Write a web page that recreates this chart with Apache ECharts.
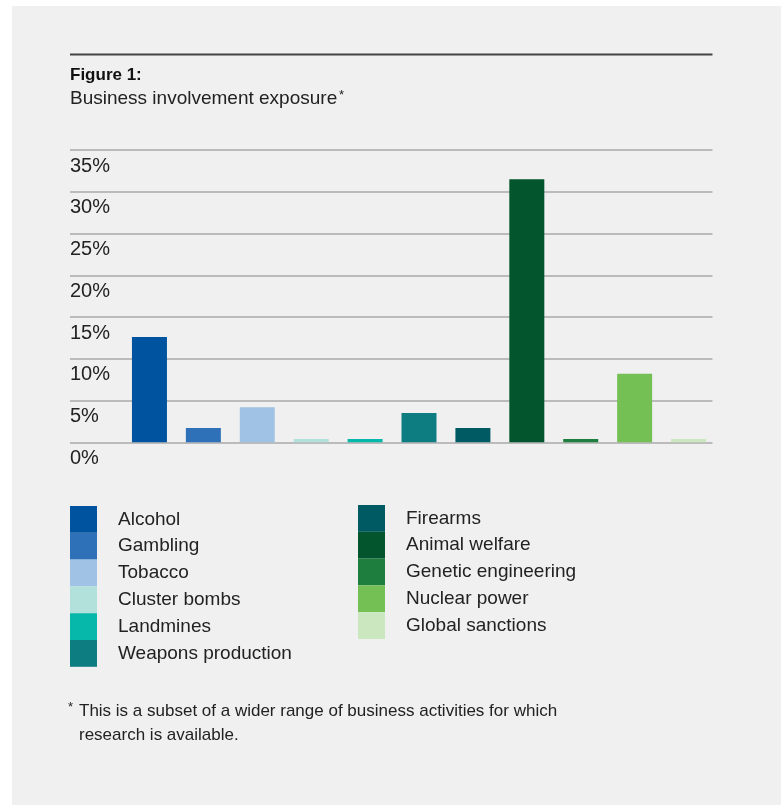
<!DOCTYPE html>
<html>
<head>
<meta charset="utf-8">
<script src="https://cdn.jsdelivr.net/npm/echarts@6/dist/echarts.min.js"></script>
<style>
  html, body { margin: 0; padding: 0; background: #fff; }
  #panel { position: absolute; left: 12px; top: 6px; width: 769px; height: 799px; background: #f0f0f0; }
  #chart { position: absolute; left: 0; top: 0; width: 781px; height: 805px; }
</style>
</head>
<body>
<div id="panel"></div>
<div id="chart"></div>
<script>
// categories, values (%) and colours
const categories = [
  "Alcohol", "Gambling", "Tobacco", "Cluster bombs", "Landmines",
  "Weapons production", "Firearms", "Animal welfare", "Genetic engineering",
  "Nuclear power", "Global sanctions"
];
const exposure = [12.6, 1.7, 4.2, 0.4, 0.4, 3.5, 1.7, 31.5, 0.4, 8.2, 0.4];
const colors = [
  "#00539f", "#2e71b8", "#a0c2e4", "#b2e0da", "#06b8aa",
  "#0e7d82", "#005a63", "#03552e", "#1e7e3e", "#74c055", "#cbe7c0"
];
const yTicks = [0, 5, 10, 15, 20, 25, 30, 35];

const FONT = "'Liberation Sans', Arial, sans-serif";
const TEXT = "#222";

let myChart = echarts.init(document.getElementById("chart"));

// one series per category so every bar gets its own legend entry
let series = categories.map((name, i) => ({
  name: name,
  type: "bar",
  xAxisIndex: 1,
  yAxisIndex: 1,
  stack: "all",
  barWidth: 35,
  itemStyle: { color: colors[i] },
  emphasis: { disabled: true },
  data: exposure.map((v, j) => (j === i ? v : "-")),
}));

let legendCommon = {
  orient: "vertical",
  icon: "rect",
  padding: 0,
  itemWidth: 27,
  itemHeight: 26.8,
  itemGap: 0,
  selectedMode: false,
  textStyle: {
    fontFamily: FONT,
    fontSize: 19,
    color: TEXT,
    padding: [0, 0, 0, 16],
  },
};

let option = {
  animation: false,
  textStyle: { fontFamily: FONT },
  grid: [
    // gridlines and labels span the full width
    { left: 70, right: 68.5, top: 150, bottom: 362.7 },
    // bars sit in a narrower band
    { left: 122.5, right: 65.5, top: 150, bottom: 362.7 },
  ],
  xAxis: [
    { gridIndex: 0, type: "category", data: categories, show: false },
    { gridIndex: 1, type: "category", data: categories, show: false },
  ],
  yAxis: [
    {
      gridIndex: 0,
      type: "value",
      min: yTicks[0],
      max: yTicks[yTicks.length - 1],
      interval: 5,
      axisLine: { show: false },
      axisTick: { show: false },
      axisLabel: {
        inside: true,
        margin: 0,
        align: "left",
        verticalAlign: "top",
        padding: [6, 0, 0, 0],
        fontSize: 20,
        color: TEXT,
        formatter: "{value}%",
      },
      splitLine: { lineStyle: { color: "#aaaaaa", width: 1.5 } },
    },
    {
      gridIndex: 1,
      type: "value",
      min: yTicks[0],
      max: yTicks[yTicks.length - 1],
      show: false,
      splitLine: { show: false },
    },
  ],
  legend: [
    Object.assign({}, legendCommon, { left: 70, top: 506, data: categories.slice(0, 6) }),
    Object.assign({}, legendCommon, { left: 358, top: 505, data: categories.slice(6) }),
  ],
  graphic: [
    {
      type: "line",
      shape: { x1: 70, y1: 54.5, x2: 712.5, y2: 54.5 },
      style: { stroke: "#444", lineWidth: 2 },
      silent: true,
    },
    {
      type: "text",
      style: { text: "Figure 1:", x: 70, y: 75, font: "bold 17px " + FONT, fill: "#111", textVerticalAlign: "middle" },
    },
    {
      type: "text",
      style: { text: "Business involvement exposure", x: 70, y: 99, font: "19px " + FONT, fill: TEXT, textVerticalAlign: "middle" },
    },
    {
      type: "text",
      style: { text: "*", x: 339, y: 95, font: "13px " + FONT, fill: TEXT, textVerticalAlign: "middle" },
    },
    {
      type: "text",
      style: { text: "*", x: 68, y: 707, font: "13px " + FONT, fill: TEXT, textVerticalAlign: "middle" },
    },
    {
      type: "text",
      style: { text: "This is a subset of a wider range of business activities for which", x: 79, y: 711, font: "17px " + FONT, fill: TEXT, textVerticalAlign: "middle" },
    },
    {
      type: "text",
      style: { text: "research is available.", x: 79, y: 735, font: "17px " + FONT, fill: TEXT, textVerticalAlign: "middle" },
    },
  ],
  series: series,
};

myChart.setOption(option);
</script>
</body>
</html>
